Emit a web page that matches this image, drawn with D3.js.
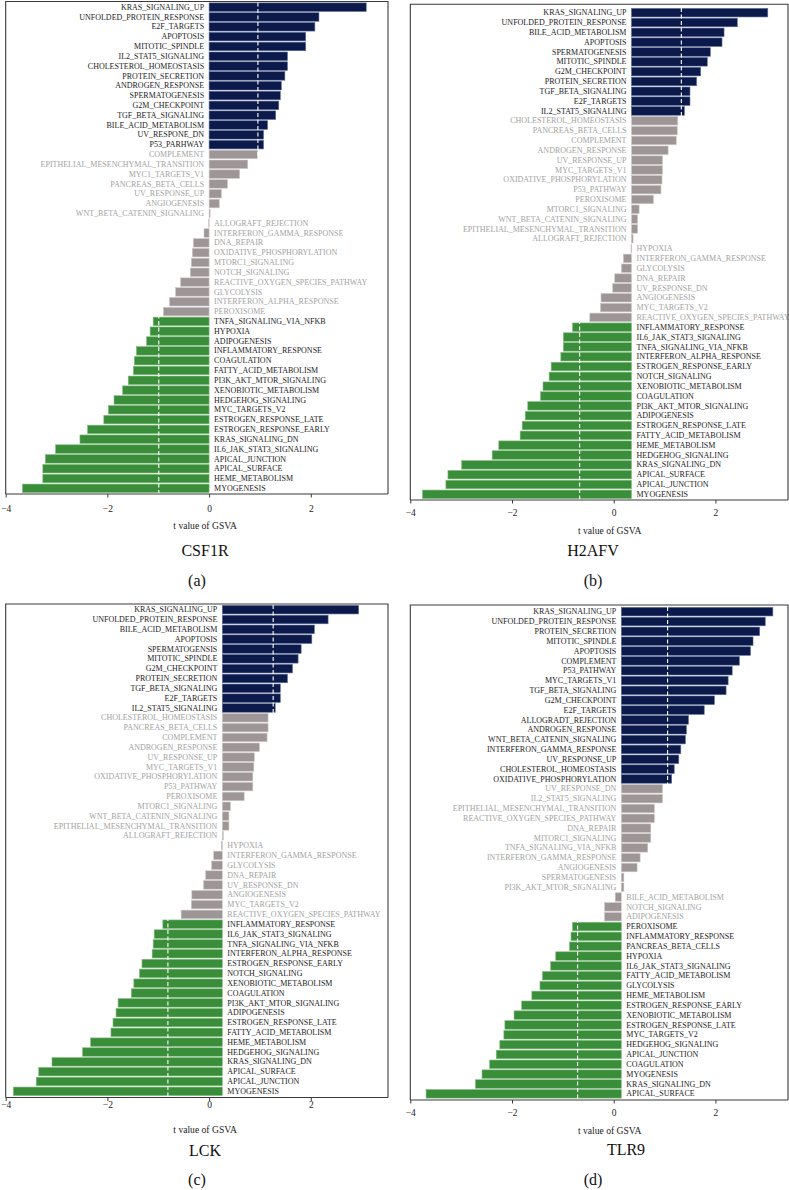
<!DOCTYPE html>
<html><head><meta charset="utf-8">
<script src="https://cdn.jsdelivr.net/npm/d3@7"></script>
<style>
html,body{margin:0;padding:0;background:#fff;}
svg{display:block;font-family:"Liberation Serif","DejaVu Serif",serif;}
</style></head>
<body><svg id="chart" width="789" height="1190"></svg>
<script>
// ---------- data ----------
const namesA = ["KRAS_SIGNALING_UP","UNFOLDED_PROTEIN_RESPONSE","E2F_TARGETS","APOPTOSIS","MITOTIC_SPINDLE","IL2_STAT5_SIGNALING","CHOLESTEROL_HOMEOSTASIS","PROTEIN_SECRETION","ANDROGEN_RESPONSE","SPERMATOGENESIS","G2M_CHECKPOINT","TGF_BETA_SIGNALING","BILE_ACID_METABOLISM","UV_RESPONE_DN","P53_PARHWAY","COMPLEMENT","EPITHELIAL_MESENCHYMAL_TRANSITION","MYC1_TARGETS_V1","PANCREAS_BETA_CELLS","UV_RESPONSE_UP","ANGIOGENESIS","WNT_BETA_CATENIN_SIGNALING","ALLOGRAFT_REJECTION","INTERFERON_GAMMA_RESPONSE","DNA_REPAIR","OXIDATIVE_PHOSPHORYLATION","MTORC1_SIGNALING","NOTCH_SIGNALING","REACTIVE_OXYGEN_SPECIES_PATHWAY","GLYCOLYSIS","INTERFERON_ALPHA_RESPONSE","PEROXISOME","TNFA_SIGNALING_VIA_NFKB","HYPOXIA","ADIPOGENESIS","INFLAMMATORY_RESPONSE","COAGULATION","FATTY_ACID_METABOLISM","PI3K_AKT_MTOR_SIGNALING","XENOBIOTIC_METABOLISM","HEDGEHOG_SIGNALING","MYC_TARGETS_V2","ESTROGEN_RESPONSE_LATE","ESTROGEN_RESPONSE_EARLY","KRAS_SIGNALING_DN","IL6_JAK_STAT3_SIGNALING","APICAL_JUNCTION","APICAL_SURFACE","HEME_METABOLISM","MYOGENESIS"];
const valuesA = [3.09,2.16,2.08,1.90,1.90,1.54,1.54,1.49,1.42,1.40,1.37,1.31,1.15,1.07,1.07,0.95,0.76,0.60,0.36,0.24,0.20,0.02,-0.01,-0.10,-0.31,-0.33,-0.35,-0.37,-0.56,-0.66,-0.78,-0.90,-1.10,-1.16,-1.23,-1.43,-1.47,-1.49,-1.59,-1.70,-1.87,-1.98,-2.07,-2.39,-2.54,-3.02,-3.22,-3.27,-3.27,-3.67];
const countsA = [15,17,18]; // up, not significant, down

const namesB = ["KRAS_SIGNALING_UP","UNFOLDED_PROTEIN_RESPONSE","BILE_ACID_METABOLISM","APOPTOSIS","SPERMATOGENESIS","MITOTIC_SPINDLE","G2M_CHECKPOINT","PROTEIN_SECRETION","TGF_BETA_SIGNALING","E2F_TARGETS","IL2_STAT5_SIGNALING","CHOLESTEROL_HOMEOSTASIS","PANCREAS_BETA_CELLS","COMPLEMENT","ANDROGEN_RESPONSE","UV_RESPONSE_UP","MYC_TARGETS_V1","OXIDATIVE_PHOSPHORYLATION","P53_PATHWAY","PEROXISOME","MTORC1_SIGNALING","WNT_BETA_CATENIN_SIGNALING","EPITHELIAL_MESENCHYMAL_TRANSITION","ALLOGRAFT_REJECTION","HYPOXIA","INTERFERON_GAMMA_RESPONSE","GLYCOLYSIS","DNA_REPAIR","UV_RESPONSE_DN","ANGIOGENESIS","MYC_TARGETS_V2","REACTIVE_OXYGEN_SPECIES_PATHWAY","INFLAMMATORY_RESPONSE","IL6_JAK_STAT3_SIGNALING","TNFA_SIGNALING_VIA_NFKB","INTERFERON_ALPHA_RESPONSE","ESTROGEN_RESPONSE_EARLY","NOTCH_SIGNALING","XENOBIOTIC_METABOLISM","COAGULATION","PI3K_AKT_MTOR_SIGNALING","ADIPOGENESIS","ESTROGEN_RESPONSE_LATE","FATTY_ACID_METABOLISM","HEME_METABOLISM","HEDGEHOG_SIGNALING","KRAS_SIGNALING_DN","APICAL_SURFACE","APICAL_JUNCTION","MYOGENESIS"];
const valuesB = [2.68,2.08,1.82,1.78,1.55,1.49,1.36,1.28,1.15,1.15,1.04,0.91,0.90,0.88,0.72,0.61,0.61,0.60,0.58,0.43,0.15,0.12,0.12,0.03,-0.01,-0.16,-0.20,-0.33,-0.37,-0.60,-0.61,-0.82,-1.16,-1.34,-1.34,-1.39,-1.58,-1.62,-1.74,-1.79,-2.04,-2.09,-2.15,-2.19,-2.61,-2.74,-3.34,-3.61,-3.65,-4.11];
const countsB = [11,21,18];

const namesC = ["KRAS_SIGNALING_UP","UNFOLDED_PROTEIN_RESPONSE","BILE_ACID_METABOLISM","APOPTOSIS","SPERMATOGENSIS","MITOTIC_SPINDLE","G2M_CHECKPOINT","PROTEIN_SECRETION","TGF_BETA_SIGNALING","E2F_TARGETS","IL2_STAT5_SIGNALING","CHOLESTEROL_HOMEOSTASIS","PANCREAS_BETA_CELLS","COMPLEMENT","ANDROGEN_RESPONSE","UV_RESPONSE_UP","MYC_TARGETS_V1","OXIDATIVE_PHOSPHORYLATION","P53_PATHWAY","PEROXISOME","MTORC1_SIGNALING","WNT_BETA_CATENIN_SIGNALING","EPITHELIAL_MESENCHYMAL_TRANSITION","ALLOGRAFT_REJECTION","HYPOXIA","INTERFERON_GAMMA_RESPONSE","GLYCOLYSIS","DNA_REPAIR","UV_RESPONSE_DN","ANGIOGENESIS","MYC_TARGETS_V2","REACTIVE_OXYGEN_SPECIES_PATHWAY","INFLAMMATORY_RESPONSE","IL6_JAK_STAT3_SIGNALING","TNFA_SIGNALING_VIA_NFKB","INTERFERON_ALPHA_RESPONSE","ESTROGEN_RESPONSE_EARLY","NOTCH_SIGNALING","XENOBIOTIC_METABOLISM","COAGULATION","PI3K_AKT_MTOR_SIGNALING","ADIPOGENESIS","ESTROGEN_RESPONSE_LATE","FATTY_ACID_METABOLISM","HEME_METABOLISM","HEDGEHOG_SIGNALING","KRAS_SIGNALING_DN","APICAL_SURFACE","APICAL_JUNCTION","MYOGENESIS"];
const valuesC = [2.68,2.08,1.81,1.76,1.55,1.49,1.38,1.28,1.14,1.14,1.04,0.90,0.90,0.88,0.73,0.63,0.62,0.60,0.60,0.43,0.16,0.13,0.13,0.02,-0.02,-0.17,-0.21,-0.33,-0.37,-0.60,-0.61,-0.81,-1.17,-1.34,-1.36,-1.38,-1.58,-1.63,-1.74,-1.79,-2.05,-2.09,-2.15,-2.19,-2.59,-2.75,-3.35,-3.61,-3.66,-4.11];
const countsC = [11,21,18];

const namesD = ["KRAS_SIGNALING_UP","UNFOLDED_PROTEIN_RESPONSE","PROTEIN_SECRETION","MITOTIC_SPINDLE","APOPTOSIS","COMPLEMENT","P53_PATHWAY","MYC_TARGETS_V1","TGF_BETA_SIGNALING","G2M_CHECKPOINT","E2F_TARGETS","ALLOGRADT_REJECTION","ANDROGEN_RESPONSE","WNT_BETA_CATENIN_SIGNALING","INTERFERON_GAMMA_RESPONSE","UV_RESPONSE_UP","CHOLESTEROL_HOMEOSTASIS","OXIDATIVE_PHOSPHORYLATION","UV_RESPONSE_DN","IL2_STAT5_SIGNALING","EPITHELIAL_MESENCHYMAL_TRANSITION","REACTIVE_OXYGEN_SPECIES_PATHWAY","DNA_REPAIR","MITORC1_SIGNALING","TNFA_SIGNALING_VIA_NFKB","INTERFERON_GAMMA_RESPONSE","ANGIOGENESIS","SPERMATOGENESIS","PI3K_AKT_MTOR_SIGNALING","BILE_ACID_METABOLISM","NOTCH_SIGNALING","ADIPOGENESIS","PEROXISOME","INFLAMMATORY_RESPONSE","PANCREAS_BETA_CELLS","HYPOXIA","IL6_JAK_STAT3_SIGNALING","FATTY_ACID_METABOLISM","GLYCOLYSIS","HEME_METABOLISM","ESTROGEN_RESPONSE_EARLY","XENOBIOTIC_METABOLISM","ESTROGEN_RESPONSE_LATE","MYC_TARGETS_V2","HEDGEHOG_SIGNALING","APICAL_JUNCTION","COAGULATION","MYOGENESIS","KRAS_SIGNALING_DN","APICAL_SURFACE"];
const valuesD = [2.98,2.83,2.72,2.59,2.54,2.32,2.18,2.10,2.06,1.83,1.63,1.32,1.28,1.26,1.17,1.13,1.04,0.99,0.81,0.81,0.65,0.65,0.58,0.58,0.52,0.37,0.31,0.05,0.05,-0.12,-0.33,-0.33,-0.96,-0.99,-1.02,-1.29,-1.39,-1.55,-1.60,-1.76,-1.96,-2.11,-2.29,-2.31,-2.39,-2.46,-2.59,-2.74,-2.87,-3.84];
const countsD = [18,14,18];

const genes = ["CSF1R","H2AFV","LCK","TLR9"];
const panelTags = ["(a)","(b)","(c)","(d)"];
const tickValues = [-4,-2,0,2];
const xAxisTitle = "t value of GSVA";

// ---------- layout / style ----------
const COLORS = {up:"#0b1a4b", ns:"#9e9696", down:"#3a8e3a"};
const STROKES = {up:"#5d6c93", ns:"#cfcaca", down:"#86bd86"};
const LABEL = {sig:"#1b1b1b", ns:"#a2a2a2"};
const unit = 50.85;
const layouts = [
  {x0:5.7,  fr:388, ft:1.5, bt:2.5, bb:493,  ay:494,   tp:7.3, xl:529,   tx:205, ty:556,  gx:197, gy:586,  off:0,    thr:[-0.99,0.96]},
  {x0:410.3,fr:788, ft:4.3, bt:8,   bb:499,  ay:500,   tp:5.3, xl:534,   tx:593, ty:556,  gx:593, gy:586,  off:0.35, thr:[-1.02,0.98]},
  {x0:5.7,  fr:388, ft:604, bt:605, bb:1096, ay:1097.5,tp:0,   xl:1132.5,tx:205, ty:1156, gx:197, gy:1185, off:0.26, thr:[-1.07,1.0]},
  {x0:410.3,fr:788, ft:605, bt:607, bb:1098.5,ay:1100, tp:5.3, xl:1133.5,tx:626, ty:1155, gx:593, gy:1185, off:0.15, thr:[-0.86,0.91]}
];

const panels = [
  {names:namesA, values:valuesA, counts:countsA},
  {names:namesB, values:valuesB, counts:countsB},
  {names:namesC, values:valuesC, counts:countsC},
  {names:namesD, values:valuesD, counts:countsD}
];

const svg = d3.select("#chart");

panels.forEach((p, pi) => {
  const L = layouts[pi];
  const g = svg.append("g");
  const x = d3.scaleLinear().domain([-4, 3.5]).range([L.x0, L.x0 + 7.5*unit]);
  const xb = d3.scaleLinear().domain([-4 - L.off, 3.5 - L.off]).range([L.x0, L.x0 + 7.5*unit]);
  const y = d3.scaleBand().domain(d3.range(p.values.length)).range([L.bt, L.bb]).paddingInner(0.13).paddingOuter(0.04);
  const grp = i => i < p.counts[0] ? "up" : (i < p.counts[0] + p.counts[1] ? "ns" : "down");
  const rows = p.values.map((v, i) => ({v, i, name:p.names[i], grp:grp(i)}));

  g.selectAll("rect.bar").data(rows).join("rect")
    .attr("class","bar")
    .attr("x", d => xb(Math.min(0, d.v)))
    .attr("y", d => y(d.i))
    .attr("width", d => Math.max(0.6, Math.abs(xb(d.v) - xb(0))))
    .attr("height", y.bandwidth())
    .attr("fill", d => COLORS[d.grp])
    .attr("stroke", d => STROKES[d.grp])
    .attr("stroke-width", 0.6);

  // threshold dashed lines
  L.thr.forEach(t => {
    g.append("line")
      .attr("x1", xb(t)).attr("x2", xb(t))
      .attr("y1", L.bt).attr("y2", L.bb)
      .attr("stroke", "#ffffff").attr("stroke-width", 1.1)
      .attr("stroke-dasharray", "4,2.5");
  });

  // labels
  g.selectAll("text.lab").data(rows).join("text")
    .attr("class","lab")
    .attr("x", d => d.v >= 0 ? xb(0) - 5 : xb(0) + 5)
    .attr("y", d => y(d.i) + y.bandwidth()/2)
    .attr("dy", "0.33em")
    .attr("text-anchor", d => d.v >= 0 ? "end" : "start")
    .attr("font-size", 8)
    .attr("fill", d => d.grp === "ns" ? LABEL.ns : LABEL.sig)
    .text(d => d.name);

  // frame
  const fl = x(-4);
  g.append("path")
    .attr("d", `M${fl},${L.ay}V${L.ft}H${L.fr}V${L.ay}`)
    .attr("fill","none").attr("stroke","#3a3a3a").attr("stroke-width",1.1);
  g.append("line").attr("x1", fl).attr("x2", L.fr).attr("y1", L.ay).attr("y2", L.ay)
    .attr("stroke","#3a3a3a").attr("stroke-width",1.1);

  // axis
  const ax = g.append("g").attr("transform", `translate(0,${L.ay})`)
    .call(d3.axisBottom(x).tickValues(tickValues).tickSize(3.5).tickPadding(L.tp).tickSizeOuter(0));
  ax.select(".domain").remove();
  ax.selectAll(".tick line").attr("stroke","#3a3a3a").attr("stroke-width",1);
  ax.selectAll(".tick text").attr("font-family","'Liberation Serif',serif").attr("font-size",9.5).attr("fill","#222");

  g.append("text").attr("x", x(0) - 4).attr("y", L.xl)
    .attr("text-anchor","middle").attr("font-size",9.6).attr("fill","#222")
    .text(xAxisTitle);

  g.append("text").attr("x", L.tx).attr("y", L.ty)
    .attr("text-anchor","middle").attr("font-size",16).attr("fill","#111")
    .text(genes[pi]);

  g.append("text").attr("x", L.gx).attr("y", L.gy)
    .attr("text-anchor","middle").attr("font-size",16).attr("fill","#111")
    .text(panelTags[pi]);
});
</script>
</body></html>
